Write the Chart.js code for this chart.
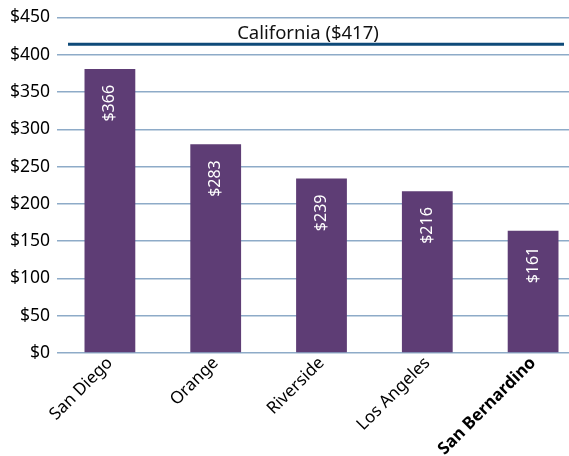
<!DOCTYPE html>
<html>
<head>
<meta charset="utf-8">
<script src="https://cdn.jsdelivr.net/npm/chart.js@4"></script>
<style>
  html, body { margin: 0; padding: 0; background: #fff; }
  #wrap { width: 569px; height: 456px; overflow: hidden; }
  #wrap div { width: 586px; height: 456px; }
</style>
</head>
<body>
<div id="wrap"><div><canvas id="grafico"></canvas></div></div>
<script>
const condados = ["San Diego", "Orange", "Riverside", "Los Angeles", "San Bernardino"];
const valores = [381, 280, 234, 217, 164];
const rotulos = ["$366", "$283", "$239", "$216", "$161"];
const californiaValor = 414;
const californiaTexto = "California ($417)";

const fonte = "'Noto Sans', sans-serif";

const linhaCalifornia = {
  id: "linhaCalifornia",
  afterDatasetsDraw(chart) {
    const { ctx, chartArea, scales } = chart;
    const y = scales.y.getPixelForValue(californiaValor);
    ctx.save();
    ctx.strokeStyle = "#0e4a79";
    ctx.lineWidth = 3;
    ctx.beginPath();
    ctx.moveTo(chartArea.left + 11, y);
    ctx.lineTo(chartArea.right - 22, y);
    ctx.stroke();
    ctx.fillStyle = "#111";
    ctx.font = "18.5px " + fonte;
    ctx.textAlign = "center";
    ctx.textBaseline = "middle";
    ctx.fillText(californiaTexto, chartArea.left + 251, y - 11);
    ctx.restore();
  }
};

const rotulosBarras = {
  id: "rotulosBarras",
  afterDatasetsDraw(chart) {
    const { ctx } = chart;
    const meta = chart.getDatasetMeta(0);
    ctx.save();
    ctx.fillStyle = "#fff";
    ctx.font = "16px " + fonte;
    ctx.textAlign = "right";
    ctx.textBaseline = "middle";
    meta.data.forEach((bar, i) => {
      ctx.save();
      ctx.translate(bar.x, bar.y + 16);
      ctx.rotate(-Math.PI / 2);
      ctx.fillText(rotulos[i], 0, 0);
      ctx.restore();
    });
    ctx.restore();
  }
};

new Chart(document.getElementById("grafico"), {
  type: "bar",
  data: {
    labels: condados,
    datasets: [{
      data: valores,
      backgroundColor: "#5e3d75",
      barPercentage: 0.48,
      categoryPercentage: 1
    }]
  },
  options: {
    responsive: true,
    maintainAspectRatio: false,
    animation: false,
    layout: { padding: { top: 16, left: 0, right: 0, bottom: 0 } },
    plugins: { legend: { display: false }, tooltip: { enabled: false } },
    scales: {
      x: {
        grid: { display: false, drawTicks: false },
        border: { display: false },
        ticks: {
          color: "#000",
          minRotation: 45,
          maxRotation: 45,
          padding: 0,
          font: c => ({ family: fonte, size: 17, weight: c.index === 4 ? "bold" : "normal" })
        },
        afterFit: s => { s.height = 103; }
      },
      y: {
        min: 0,
        max: 450,
        grid: { color: "#8eabc8", lineWidth: 1.5, drawTicks: false },
        border: { display: false },
        ticks: {
          stepSize: 50,
          color: "#000",
          padding: 7,
          font: { family: fonte, size: 17.5 },
          callback: v => "$" + v
        },
        afterFit: s => { s.width = 57; }
      }
    }
  },
  plugins: [linhaCalifornia, rotulosBarras]
});
</script>
</body>
</html>
